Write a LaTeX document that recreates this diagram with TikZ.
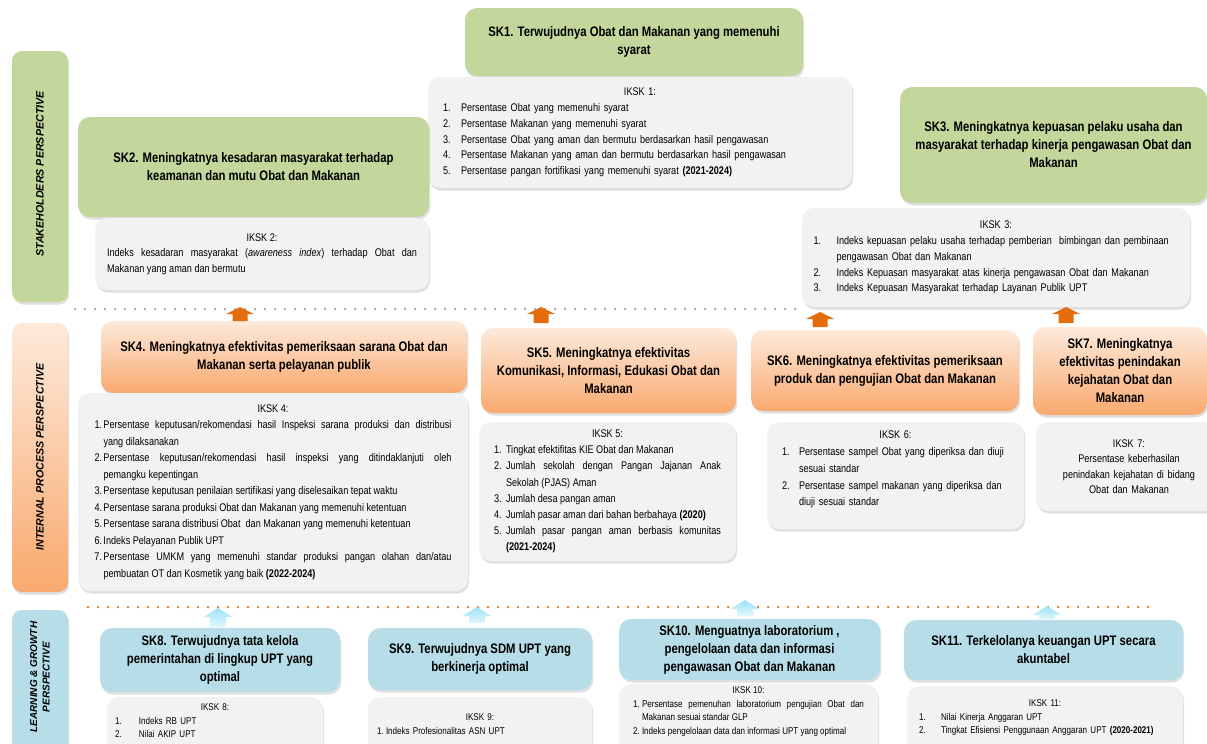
\documentclass[tikz,border=0pt]{standalone}
\usepackage{fontspec}
\setmainfont{Liberation Sans}[FakeStretch=0.82]
\newfontfamily\barfont{Liberation Sans}
\usetikzlibrary{shadows}

\definecolor{skgreenc}{HTML}{C3D69B}
\definecolor{skbluec}{HTML}{B7DEE8}
\definecolor{orgtop}{HTML}{FDEADB}
\definecolor{orgbot}{HTML}{F9A96E}
\definecolor{ikskc}{HTML}{F2F2F2}
\definecolor{arrorange}{HTML}{E46C0A}
\definecolor{dotgray}{HTML}{9C9C9C}
\definecolor{arrbluetop}{HTML}{9EE2F7}
\definecolor{arrbluebot}{HTML}{E0F7FD}

\newlength\numw
\newcommand\itm[1]{\par\noindent\hangindent=\numw\hangafter=1\makebox[\numw][l]{#1}\ignorespaces}
\newcommand\ikhead[1]{\centerline{#1}\par}
\newcommand\headfont{\fontsize{13.8}{18}\selectfont\bfseries}
\newcommand\smallfont{\fontsize{11.1}{15.8}\selectfont}
\newcommand\tinyfont{\fontsize{9.8}{13.5}\selectfont}

\tikzset{
  box/.style={rounded corners=12pt, inner sep=0pt,
    drop shadow={shadow xshift=1.2pt, shadow yshift=-2.5pt, opacity=.25}},
  skgreen/.style={box, fill=skgreenc, align=center, font=\headfont},
  skorange/.style={box, top color=orgtop, bottom color=orgbot, align=center, font=\headfont},
  skblue/.style={box, fill=skbluec, align=center, font=\headfont},
  iksk/.style={box, fill=ikskc, font=\smallfont,
    execute at begin node={\tolerance=10000\hyphenpenalty=10000}},
  ikskt/.style={inner sep=0pt, anchor=north, font=\tinyfont,
    execute at begin node={\tolerance=10000\hyphenpenalty=10000}},
  bar/.style={rounded corners=10pt, inner sep=0pt,
    drop shadow={shadow xshift=1.2pt, shadow yshift=-2.5pt, opacity=.25}},
  bartext/.style={rotate=90, inner sep=0pt, align=center,
    font=\barfont\fontsize{10.7}{12.5}\selectfont\bfseries\itshape},
  graydots/.style={dotgray, line width=2.5pt, line cap=round, dash pattern=on 0pt off 10pt},
  orangedots/.style={arrorange, line width=2.5pt, line cap=round, dash pattern=on 0pt off 10pt},
}

\begin{document}
\begin{tikzpicture}[x=1pt,y=-1pt]
\useasboundingbox (0,0) rectangle (1207,744);
\clip (0,0) rectangle (1207,744);

\node[bar, fill=skgreenc, minimum width=56pt, minimum height=251pt] (shbar) at (40,176.5) {};
\node[bartext] (shtext) at (40,174) {STAKEHOLDERS PERSPECTIVE};
\node[bar, top color=orgtop, bottom color=orgbot, minimum width=56pt, minimum height=269pt] (ipbar) at (40,457.5) {};
\node[bartext] (iptext) at (40,457) {INTERNAL PROCESS PERSPECTIVE};
\node[bar, fill=skbluec, minimum width=56pt, minimum height=160pt] (lgbar) at (40,690) {};
\node[bartext, font=\barfont\fontsize{10}{12.5}\selectfont\bfseries\itshape] (lgtext) at (40,677) {LEARNING \& GROWTH\\PERSPECTIVE};

\draw[graydots] (75,309) -- (802,309);
\draw[orangedots] (88,607) -- (1155,607);

\node[skgreen, minimum width=338pt, minimum height=68pt] (sk1) at (634,42)
  {SK1. Terwujudnya Obat dan Makanan yang memenuhi\\syarat};
\node[iksk, minimum width=424pt, minimum height=111pt, text width=394pt, align=left] (iksk1) at (640,132.5)
  {\setlength\numw{18pt}\ikhead{IKSK 1:}
   \itm{1.}Persentase Obat yang memenuhi syarat
   \itm{2.}Persentase Makanan yang memenuhi syarat
   \itm{3.}Persentase Obat yang aman dan bermutu berdasarkan hasil pengawasan
   \itm{4.}Persentase Makanan yang aman dan bermutu berdasarkan hasil pengawasan
   \itm{5.}Persentase pangan fortifikasi yang memenuhi syarat \textbf{(2021-2024)}\par};

\node[skgreen, minimum width=351pt, minimum height=100pt] (sk2) at (253.5,167)
  {SK2. Meningkatnya kesadaran masyarakat terhadap\\keamanan dan mutu Obat dan Makanan};
\node[iksk, font=\fontsize{11.1}{15.5}\selectfont, minimum width=334pt, minimum height=72pt,
  text width=310pt, align=justify] (iksk2) at (262,254)
  {\ikhead{IKSK 2:}\noindent Indeks kesadaran masyarakat (\textit{awareness index}) terhadap Obat dan\linebreak
   Makanan yang aman dan bermutu\par};

\node[skgreen, minimum width=307pt, minimum height=116pt] (sk3) at (1053.5,145)
  {SK3. Meningkatnya kepuasan pelaku usaha dan\\masyarakat terhadap kinerja pengawasan Obat dan\\Makanan};
\node[iksk, minimum width=388pt, minimum height=99pt, text width=365pt, align=left] (iksk3) at (996,257.5)
  {\setlength\numw{23pt}\ikhead{IKSK 3:}
   \itm{1.}Indeks kepuasan pelaku usaha terhadap pemberian \ bimbingan dan pembinaan\newline
   pengawasan Obat dan Makanan
   \itm{2.}Indeks Kepuasan masyarakat atas kinerja pengawasan Obat dan Makanan
   \itm{3.}Indeks Kepuasan Masyarakat terhadap Layanan Publik UPT\par};

\node[skorange, minimum width=366pt, minimum height=72pt] (sk4) at (284,357)
  {SK4. Meningkatnya efektivitas pemeriksaan sarana Obat dan\\Makanan serta pelayanan publik};
\node[iksk, font=\fontsize{11.1}{16.5}\selectfont, minimum width=390pt, minimum height=198pt,
  text width=357pt, align=justify] (iksk4) at (273,492)
  {\setlength\numw{9pt}\ikhead{IKSK 4:}
   \itm{1.}Persentase keputusan/rekomendasi hasil Inspeksi sarana produksi dan distribusi\linebreak
   yang dilaksanakan
   \itm{2.}Persentase keputusan/rekomendasi hasil inspeksi yang ditindaklanjuti oleh\linebreak
   pemangku kepentingan
   \itm{3.}Persentase keputusan penilaian sertifikasi yang diselesaikan tepat waktu
   \itm{4.}Persentase sarana produksi Obat dan Makanan yang memenuhi ketentuan
   \itm{5.}Persentase sarana distribusi Obat \ dan Makanan yang memenuhi ketentuan
   \itm{6.}Indeks Pelayanan Publik UPT
   \itm{7.}Persentase UMKM yang memenuhi standar produksi pangan olahan dan/atau\linebreak
   pembuatan OT dan Kosmetik yang baik \textbf{(2022-2024)}\par};

\node[skorange, minimum width=255pt, minimum height=85pt] (sk5) at (608.5,370.5)
  {SK5. Meningkatnya efektivitas\\Komunikasi, Informasi, Edukasi Obat dan\\Makanan};
\node[iksk, font=\fontsize{11.1}{16.2}\selectfont, minimum width=257pt, minimum height=139pt,
  text width=227pt, align=justify] (iksk5) at (607.5,491.5)
  {\setlength\numw{12pt}\ikhead{IKSK 5:}
   \itm{1.}Tingkat efektifitas KIE Obat dan Makanan
   \itm{2.}Jumlah sekolah dengan Pangan Jajanan Anak\linebreak
   Sekolah (PJAS) Aman
   \itm{3.}Jumlah desa pangan aman
   \itm{4.}Jumlah pasar aman dari bahan berbahaya \textbf{(2020)}
   \itm{5.}Jumlah pasar pangan aman berbasis komunitas\linebreak
   \textbf{(2021-2024)}\par};

\node[skorange, minimum width=268pt, minimum height=81pt] (sk6) at (885,370.5)
  {SK6. Meningkatnya efektivitas pemeriksaan\\produk dan pengujian Obat dan Makanan};
\node[box, fill=ikskc, minimum width=257pt, minimum height=107pt, anchor=north] (iksk6) at (895.5,422) {};
\node[ikskt, font=\fontsize{11.1}{16.7}\selectfont, text width=227pt, align=left] (iksk6t)
  at ([yshift=-9pt]iksk6.north)
  {\setlength\numw{17pt}\ikhead{IKSK 6:}
   \itm{1.}Persentase sampel Obat yang diperiksa dan diuji\newline
   sesuai standar
   \itm{2.}Persentase sampel makanan yang diperiksa dan\newline
   diuji sesuai standar\par};

\node[skorange, minimum width=174pt, minimum height=88pt] (sk7) at (1120,371)
  {SK7. Meningkatnya\\efektivitas penindakan\\kejahatan Obat dan\\Makanan};
\node[iksk, font=\fontsize{11.1}{15.5}\selectfont, minimum width=186pt, minimum height=89pt,
  text width=170pt, align=center] (iksk7) at (1129,466.5)
  {IKSK 7:\\Persentase keberhasilan\\penindakan kejahatan di bidang\\Obat dan Makanan};

\node[skblue, minimum width=240pt, minimum height=64pt] (sk8) at (220,660)
  {SK8. Terwujudnya tata kelola\\pemerintahan di lingkup UPT yang\\optimal};
\node[box, fill=ikskc, minimum width=216pt, minimum height=70pt, anchor=north] (iksk8) at (215,697) {};
\node[ikskt, text width=200pt, align=left] (iksk8t) at ([yshift=-6.6pt]iksk8.north)
  {\setlength\numw{24pt}\ikhead{IKSK 8:}
   \itm{1.}Indeks RB UPT
   \itm{2.}Nilai AKIP UPT\par};

\node[skblue, minimum width=224pt, minimum height=62pt] (sk9) at (480,659)
  {SK9. Terwujudnya SDM UPT yang\\berkinerja optimal};
\node[box, fill=ikskc, minimum width=224pt, minimum height=70pt, anchor=north] (iksk9) at (480,697) {};
\node[ikskt, text width=206pt, align=left] (iksk9t) at ([yshift=-16.6pt]iksk9.north)
  {\setlength\numw{9pt}\ikhead{IKSK 9:}
   \itm{1.}Indeks Profesionalitas ASN UPT\par};

\node[skblue, minimum width=261pt, minimum height=61pt] (sk10) at (749.5,649.5)
  {SK10. Menguatnya laboratorium ,\\pengelolaan data dan informasi\\pengawasan Obat dan Makanan};
\node[box, fill=ikskc, minimum width=259pt, minimum height=70pt, anchor=north] (iksk10) at (748.5,684) {};
\node[ikskt, text width=231pt, align=justify] (iksk10t) at ([yshift=-2.8pt]iksk10.north)
  {\setlength\numw{9pt}\ikhead{IKSK 10:}
   \itm{1.}Persentase pemenuhan laboratorium pengujian Obat dan\linebreak
   Makanan sesuai standar GLP
   \itm{2.}Indeks pengelolaan data dan informasi UPT yang optimal\par};

\node[skblue, minimum width=279pt, minimum height=60pt] (sk11) at (1043.5,650)
  {SK11. Terkelolanya keuangan UPT secara\\akuntabel};
\node[box, fill=ikskc, minimum width=276pt, minimum height=70pt, anchor=north] (iksk11) at (1045,686) {};
\node[ikskt, text width=252pt, align=left] (iksk11t) at ([yshift=-13.6pt]iksk11.north)
  {\setlength\numw{22pt}\ikhead{IKSK 11:}
   \itm{1.}Nilai Kinerja Anggaran UPT
   \itm{2.}Tingkat Efisiensi Penggunaan Anggaran UPT \textbf{(2020-2021)}\par};

\foreach \ax/\at/\ab in {240/307/321, 541/307/323, 820/312/327, 1066/307/323} {
  \fill[arrorange] (\ax-14,\at+7) -- (\ax,\at) -- (\ax+14,\at+7) -- (\ax+7.5,\at+7)
    -- (\ax+7.5,\ab) -- (\ax-7.5,\ab) -- (\ax-7.5,\at+7) -- cycle;
}
\foreach \ax/\at/\ab in {218/608/627, 477/607/623, 745/600/616, 1047/606/619} {
  \shade[top color=arrbluetop, bottom color=arrbluebot] (\ax-14.5,\at+9) -- (\ax,\at) -- (\ax+14.5,\at+9)
    -- (\ax+8,\at+9) -- (\ax+8,\ab) -- (\ax-8,\ab) -- (\ax-8,\at+9) -- cycle;
}
\end{tikzpicture}
\end{document}
